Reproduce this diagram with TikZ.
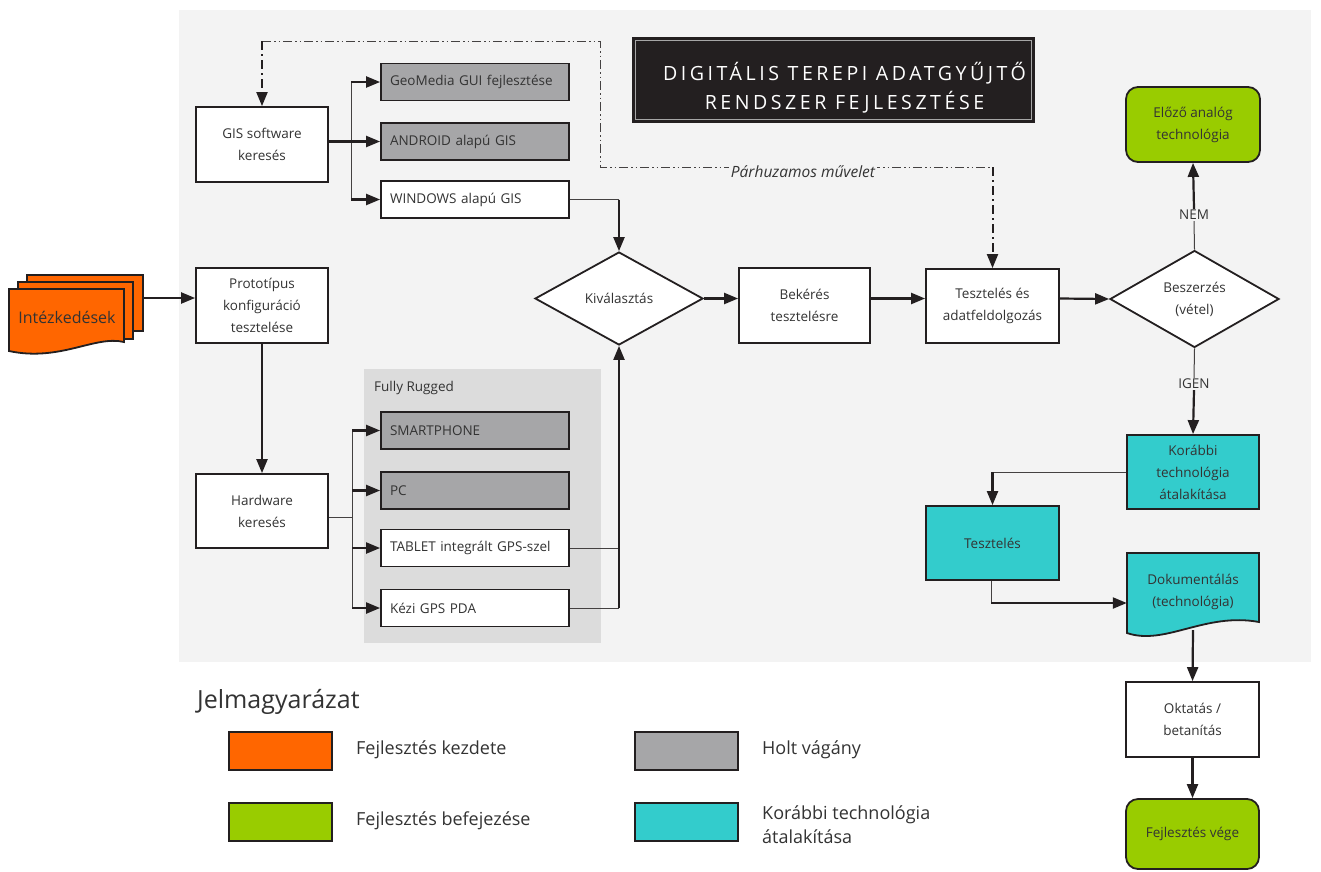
\documentclass[tikz,border=0pt]{standalone}
\usepackage{fontspec}
\setmainfont{Open Sans}
\usetikzlibrary{arrows.meta,shapes.geometric}
\definecolor{bg}{HTML}{F3F3F3}
\definecolor{ln}{HTML}{231F20}
\definecolor{txt}{HTML}{333333}
\definecolor{dead}{HTML}{A6A6A8}
\definecolor{orng}{HTML}{FF6600}
\definecolor{grn}{HTML}{99CC00}
\definecolor{tealc}{HTML}{33CCCC}
\definecolor{rug}{HTML}{DCDCDC}
\tikzset{
  boxfont/.style={font=\fontsize{13.5}{22}\selectfont},
  box/.style={draw=ln, line width=1.8pt, fill=white, text=txt, boxfont, align=center, inner sep=0pt, minimum width=#1},
  box/.default=132pt,
  optbox/.style={draw=ln, line width=1.8pt, fill=white, text=txt, boxfont, align=left, inner xsep=9pt, inner ysep=0pt, text width=170pt, minimum height=37pt},
  deadbox/.style={optbox, fill=dead},
  dia/.style={diamond, draw=ln, line width=1.8pt, fill=white, text=txt, boxfont, align=center, inner sep=0pt},
  arr/.style={draw=ln, line width=2.2pt, -{Triangle[length=14pt,width=11pt]}},
  thinl/.style={draw=ln!85, line width=1pt},
  ddthin/.style={draw=ln!85, line width=1pt, dash pattern=on 9pt off 3pt on 1.5pt off 3pt on 1.5pt off 3pt},
  ddthick/.style={draw=ln, line width=2pt, dash pattern=on 9pt off 4pt on 2pt off 4pt, -{Triangle[length=14pt,width=11pt]}},
  legbox/.style={draw=ln, line width=1.8pt, minimum width=103pt, minimum height=38pt, inner sep=0pt},
  leglabel/.style={text=txt, font=\fontsize{18}{24}\selectfont, anchor=west, align=left, inner sep=0pt},
  lbl/.style={text=txt, boxfont, inner sep=1pt}
}
\begin{document}
\begin{tikzpicture}[x=1pt,y=-1pt]
\useasboundingbox (0,0) rectangle (1321,871);
\fill[white] (0,0) rectangle (1321,871);
\fill[bg] (179,10) rectangle (1311,662);

% title
\fill[ln] (632,37) rectangle (1035,123);
\draw[gray!70, line width=0.8pt] (635.5,40.5) rectangle (1031.5,119.5);
\node[text=white, align=center, inner sep=0pt, font=\fontsize{19.6}{29}\selectfont\addfontfeatures{LetterSpace=18}] (title) at (844.5,87.5) {DIGITÁLIS TEREPI ADATGYŰJTŐ\\RENDSZER FEJLESZTÉSE};

% Fully Rugged panel
\fill[rug] (364,369) rectangle (601,643);
\node[text=txt, boxfont, anchor=west, inner sep=0pt] (rugl) at (374,388) {Fully Rugged};

% Intezkedesek (stacked documents)
\draw[fill=orng, draw=ln, line width=1.8pt] (27,275) -- (143,275) -- (143,331) -- (133,331) -- (133,282) -- (27,282) -- cycle;
\draw[fill=orng, draw=ln, line width=1.8pt] (18,282) -- (133,282) -- (133,339) -- (124,339) -- (124,289) -- (18,289) -- cycle;
\draw[fill=orng, draw=ln, line width=1.8pt] (9,289) -- (124,289) -- (124,342) .. controls (95,335) and (60,362) .. (9,351) -- cycle;
\node[text=txt, font=\fontsize{16}{18}\selectfont, inner sep=0pt] (int) at (67,317) {Intézkedések};
\coordinate (inte) at (143,298);

% left column
\node[box, minimum height=75pt] (gis) at (262,144.5) {GIS software\\keresés};
\node[box, minimum height=75pt] (proto) at (262,305.5) {Prototípus\\konfiguráció\\tesztelése};
\node[box, minimum height=74pt] (hw) at (262,511) {Hardware\\keresés};

% software options
\node[deadbox] (geo) at (475,82) {GeoMedia GUI fejlesztése};
\node[deadbox] (andr) at (475,141.5) {ANDROID alapú GIS};
\node[optbox] (win) at (475,199.5) {WINDOWS alapú GIS};

% hardware options
\node[deadbox] (smart) at (475,430.5) {SMARTPHONE};
\node[deadbox] (pc) at (475,490.5) {PC};
\node[optbox] (tab) at (475,548) {TABLET integrált GPS-szel};
\node[optbox] (kezi) at (475,608) {Kézi GPS PDA};

% main row
\node[dia, minimum width=168pt, minimum height=93pt] (kiv) at (619,298.5) {Kiválasztás};
\node[box=131pt, minimum height=75pt] (bek) at (804.5,305.5) {Bekérés\\tesztelésre};
\node[box=133pt, minimum height=74pt] (teszt) at (992.5,306) {Tesztelés és\\adatfeldolgozás};
\node[dia, minimum width=169pt, minimum height=94pt] (besz) at (1194.5,299) {Beszerzés\\(vétel)};

% right column
\node[box=134pt, minimum height=75pt, fill=grn, rounded corners=12pt] (elozo) at (1193,124.5) {Előző analóg\\technológia};
\node[lbl] (nem) at (1194,215) {NEM};
\node[lbl] (igen) at (1194,384) {IGEN};
\node[box, minimum height=74pt, fill=tealc] (kor) at (1193,472) {Korábbi\\technológia\\átalakítása};
\node[box=133pt, minimum height=74pt, fill=tealc] (tesz2) at (992.5,543) {Tesztelés};
\draw[fill=tealc, draw=ln, line width=1.8pt] (1127,553) -- (1259,553) -- (1259,622) .. controls (1205,612) and (1165,646) .. (1127,633) -- cycle;
\node[text=txt, boxfont, align=center, inner sep=0pt, minimum width=132pt, minimum height=77pt] (doc) at (1193,591.5) {Dokumentálás\\(technológia)};
\node[box=133pt, minimum height=75pt] (okt) at (1192.5,719.5) {Oktatás /\\betanítás};
\node[box=133pt, minimum height=70pt, fill=grn, rounded corners=12pt] (vege) at (1192.5,834) {Fejlesztés vége};

% parallel operation (dash-dot)
\coordinate (p1) at (262,41);
\coordinate (p2) at (600,41);
\coordinate (p3) at (600,167);
\coordinate (p4) at (992.5,167);
\draw[ddthin] (p1) -- (p2) -- (p3) -- (p4);
\draw[ddthick] (p1) -- (gis.north);
\draw[ddthick] (p4) -- (teszt.north);
\node[fill=bg, text=txt, inner sep=1.5pt, font=\itshape\fontsize{15.5}{17}\selectfont] (par) at (803,172) {Párhuzamos művelet};

% connectors
\draw[arr] (inte) -- (inte -| proto.west);
\draw[arr] (proto.south) -- (hw.north);

\coordinate (gb1) at (351,82);
\coordinate (gb2) at (351,199.5);
\draw[thinl] (gb1) -- (gb2);
\draw[arr] (gis.east |- andr.west) -- (andr.west);
\draw[arr] (gb1) -- (geo.west);
\draw[arr] (gb2) -- (win.west);

\coordinate (hb) at (352,517);
\coordinate (hb1) at (352,430.5);
\coordinate (hb2) at (352,608);
\draw[thinl] (hw.east |- hb) -- (hb);
\draw[thinl] (hb1) -- (hb2);
\draw[arr] (hb1) -- (smart.west);
\draw[arr] (hb |- pc.west) -- (pc.west);
\draw[arr] (hb |- tab.west) -- (tab.west);
\draw[arr] (hb2) -- (kezi.west);

\draw[thinl] (win.east) -- (win.east -| kiv.north);
\draw[arr] (win.east -| kiv.north) -- (kiv.north);
\draw[thinl] (tab.east) -- (tab.east -| kiv.south);
\draw[thinl] (kezi.east) -- (kezi.east -| kiv.south);
\draw[arr] (kezi.east -| kiv.south) -- (kiv.south);

\draw[arr] (kiv.east) -- (kiv.east -| bek.west);
\draw[arr] (kiv.east -| bek.east) -- (kiv.east -| teszt.west);
\draw[arr] (kiv.east -| teszt.east) -- (besz.west);

\draw[thinl] (besz.north) -- (nem.south);
\draw[arr] (nem.north) -- (elozo.south);
\draw[thinl] (besz.south) -- (igen.north);
\draw[arr] (igen.south) -- (kor.north);

\draw[thinl] (kor.west) -- (kor.west -| tesz2.north);
\draw[arr] (kor.west -| tesz2.north) -- (tesz2.north);
\coordinate (td) at (991,603);
\draw[thinl] (tesz2.south -| td) -- (td);
\draw[arr] (td) -- (td -| doc.west);
\draw[arr] (doc.south) -- (okt.north);
\draw[arr] (okt.south) -- (vege.north);

% legend
\node[text=txt, font=\fontsize{25}{30}\selectfont, anchor=west, inner sep=0pt] (leg) at (197,702) {Jelmagyarázat};
\node[legbox, fill=orng] (l1) at (280.5,751) {};
\node[legbox, fill=grn] (l2) at (280.5,822) {};
\node[legbox, fill=dead] (l3) at (686.5,751) {};
\node[legbox, fill=tealc] (l4) at (686.5,822) {};
\node[leglabel] (t1) at (356,750) {Fejlesztés kezdete};
\node[leglabel] (t2) at (356,821) {Fejlesztés befejezése};
\node[leglabel] (t3) at (762,750) {Holt vágány};
\node[leglabel] (t4) at (762,825) {Korábbi technológia\\átalakítása};
\end{tikzpicture}
\end{document}
